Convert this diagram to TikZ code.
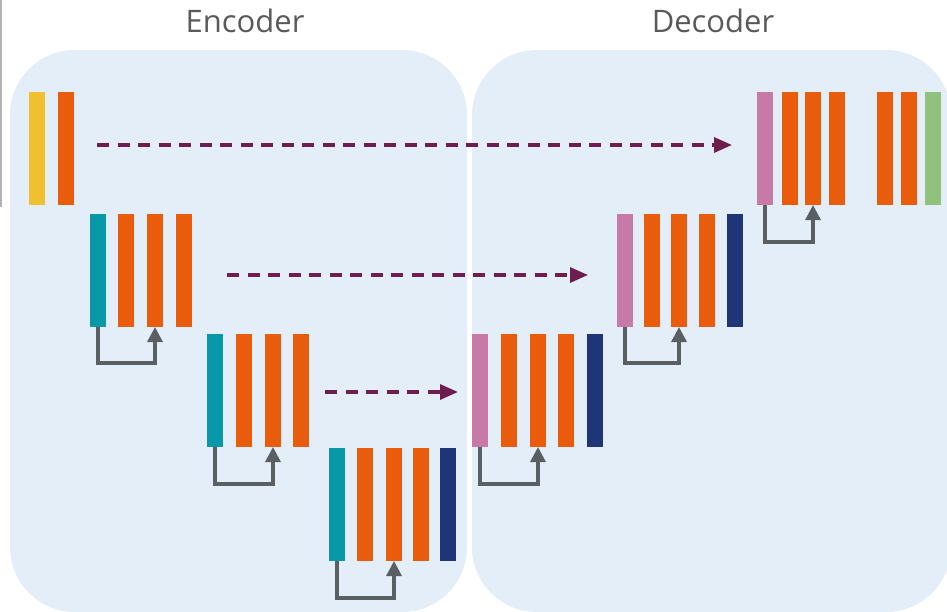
\documentclass[tikz,border=0pt]{standalone}
\usepackage{fontspec}
\setmainfont{Open Sans}
\usetikzlibrary{arrows.meta}

\definecolor{panel}{HTML}{E4EEF9}
\definecolor{label}{HTML}{5A5A5A}
\definecolor{inblk}{HTML}{F0C030}
\definecolor{conv}{HTML}{E95C0B}
\definecolor{down}{HTML}{0898A8}
\definecolor{up}{HTML}{C77AA6}
\definecolor{mid}{HTML}{1E3678}
\definecolor{outblk}{HTML}{8FC27D}
\definecolor{skipc}{HTML}{5A5F63}
\definecolor{crossc}{HTML}{6E1E4E}

\tikzset{
  bar/.style={minimum width=16pt, minimum height=113pt, inner sep=0pt, outer sep=0pt, anchor=north west},
  resid/.style={draw=skipc, line width=3.2pt, -{Triangle[length=15pt,width=15pt]}},
  cross/.style={draw=crossc, line width=3.2pt, dash pattern=on 12pt off 8.5pt, -{Triangle[length=18pt,width=15pt]}},
  title/.style={text=label, font=\fontsize{31}{36}\selectfont}
}

\begin{document}
\begin{tikzpicture}[x=1pt,y=-1pt]
  \clip (0,0) rectangle (947,611);
  \fill[white] (0,0) rectangle (947,611);
  \draw[gray!60, line width=1.5pt] (1,0) -- (1,207);

  % panels
  \fill[panel, rounded corners=65pt] (10,50) rectangle (467,612);
  \fill[panel, rounded corners=65pt] (472,50) rectangle (951,612);
  \node[title] (enc) at (245,21) {Encoder};
  \node[title] (dec) at (713,21) {Decoder};

  % encoder
  \node[bar, fill=inblk] (e1a) at (29,92) {};
  \node[bar, fill=conv] (e1b) at (58,92) {};

  \node[bar, fill=down] (e2a) at (90,214) {};
  \node[bar, fill=conv] (e2b) at (118,214) {};
  \node[bar, fill=conv] (e2c) at (147,214) {};
  \node[bar, fill=conv] (e2d) at (176,214) {};

  \node[bar, fill=down] (e3a) at (207,334) {};
  \node[bar, fill=conv] (e3b) at (236,334) {};
  \node[bar, fill=conv] (e3c) at (265,334) {};
  \node[bar, fill=conv] (e3d) at (293,334) {};

  \node[bar, fill=down] (e4a) at (329,448) {};
  \node[bar, fill=conv] (e4b) at (357,448) {};
  \node[bar, fill=conv] (e4c) at (386,448) {};
  \node[bar, fill=conv] (e4d) at (413,448) {};
  \node[bar, fill=mid] (e4e) at (440,448) {};

  % decoder
  \node[bar, fill=up] (d3a) at (472,334) {};
  \node[bar, fill=conv] (d3b) at (501,334) {};
  \node[bar, fill=conv] (d3c) at (530,334) {};
  \node[bar, fill=conv] (d3d) at (558,334) {};
  \node[bar, fill=mid] (d3e) at (587,334) {};

  \node[bar, fill=up] (d2a) at (617,214) {};
  \node[bar, fill=conv] (d2b) at (644,214) {};
  \node[bar, fill=conv] (d2c) at (671,214) {};
  \node[bar, fill=conv] (d2d) at (699,214) {};
  \node[bar, fill=mid] (d2e) at (727,214) {};

  \node[bar, fill=up] (d1a) at (757,92) {};
  \node[bar, fill=conv] (d1b) at (782,92) {};
  \node[bar, fill=conv] (d1c) at (805,92) {};
  \node[bar, fill=conv] (d1d) at (829,92) {};
  \node[bar, fill=conv] (d1e) at (877,92) {};
  \node[bar, fill=conv] (d1f) at (901,92) {};
  \node[bar, fill=outblk] (d1g) at (925,92) {};

  % residual loops
  \draw[resid] (e2a.south) -- ++(0,36) -| (e2c.south);
  \draw[resid] (e3a.south) -- ++(0,37) -| (e3c.south);
  \draw[resid] (e4a.south) -- ++(0,37) -| (e4c.south);
  \draw[resid] (d3a.south) -- ++(0,37) -| (d3c.south);
  \draw[resid] (d2a.south) -- ++(0,36) -| (d2c.south);
  \draw[resid] (d1a.south) -- ++(0,37) -| (d1c.south);

  % skip connections
  \coordinate (s1) at (97,145);
  \coordinate (t1) at (732,145);
  \coordinate (s2) at (227,275);
  \coordinate (t2) at (588,275);
  \coordinate (s3) at (325,392);
  \coordinate (t3) at (458,392);
  \draw[cross] (s1) -- (t1);
  \draw[cross] (s2) -- (t2);
  \draw[cross] (s3) -- (t3);
\end{tikzpicture}
\end{document}
